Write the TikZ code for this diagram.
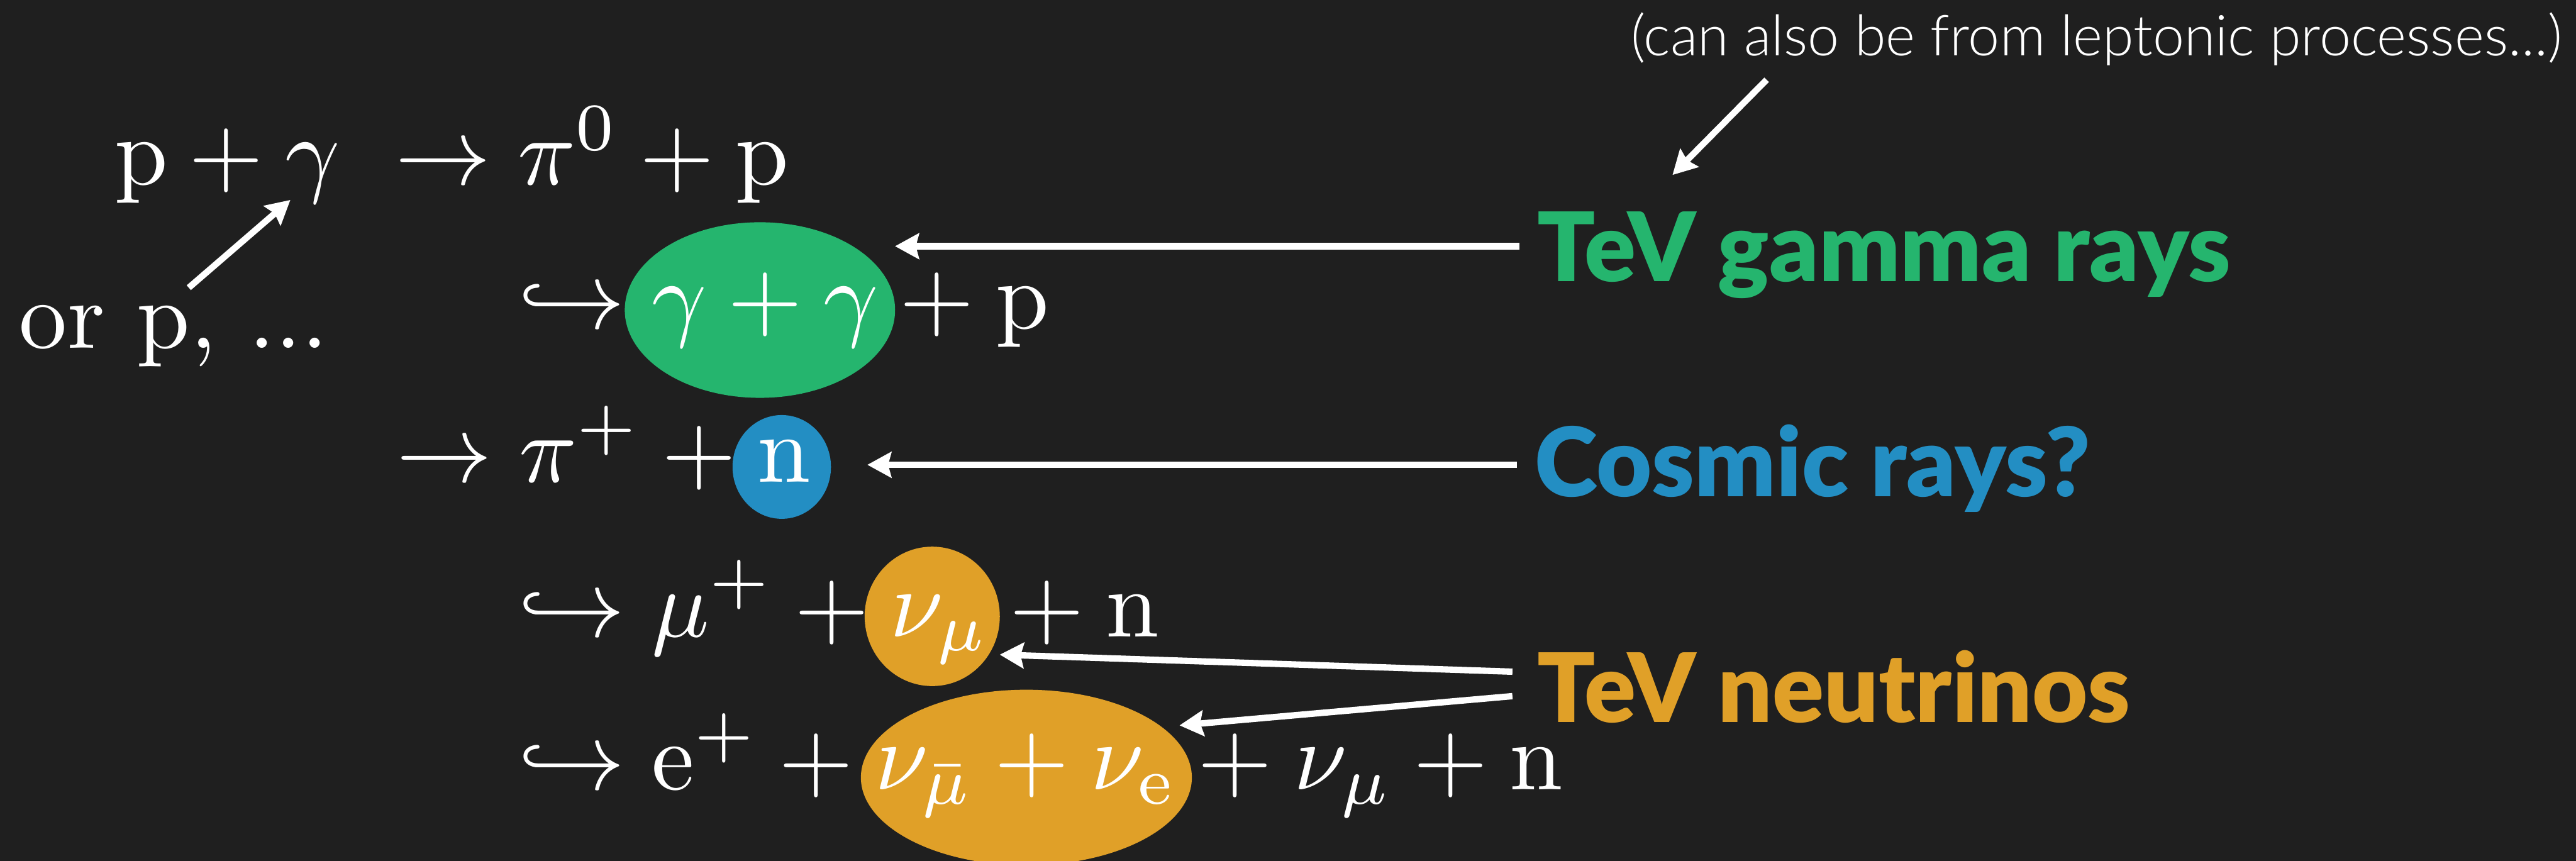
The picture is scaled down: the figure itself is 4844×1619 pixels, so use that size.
\documentclass[tikz,border=0pt]{standalone}
\usepackage{fontspec}
\newfontfamily\latoblack{Lato Black}
\newfontfamily\latolight{Lato Light}
\usetikzlibrary{arrows.meta,shapes.geometric}
\definecolor{bg}{HTML}{1F1F1F}
\definecolor{cgreen}{HTML}{25B56E}
\definecolor{cblue}{HTML}{238EC3}
\definecolor{corange}{HTML}{E0A028}
\tikzset{
  mathrow/.style={anchor=base west, inner sep=0pt, text=white, font=\fontsize{10}{12}\selectfont, scale=5.12, transform shape},
  lab/.style={anchor=base west, inner sep=0pt, font=\latoblack\fontsize{51.2}{60}\selectfont},
  note/.style={anchor=base west, inner sep=0pt, text=white, font=\latolight\fontsize{30.2}{36}\selectfont},
  blob/.style={ellipse, inner sep=0pt, draw=none},
  arr/.style={draw=white, line width=3.4pt, -{Stealth[length=0.45cm,width=0.48cm,inset=0.06cm]}}
}
\begin{document}
\begin{tikzpicture}[x=0.01cm,y=-0.01cm]
\fill[bg] (0,0) rectangle (4844,1619);
\useasboundingbox (0,0) rectangle (4844,1619);
% highlight blobs
\node[blob, fill=cgreen, minimum width=5.08cm, minimum height=3.3cm] (g1) at (1429,583) {};
\node[blob, fill=cblue, minimum width=1.85cm, minimum height=1.95cm] (b1) at (1470,878) {};
\node[blob, fill=corange, minimum width=2.54cm, minimum height=2.62cm] (o1) at (1753,1159) {};
\node[blob, fill=corange, minimum width=6.22cm, minimum height=3.3cm] (o2) at (1930,1462) {};
% reaction rows
\node[mathrow] (r1l) at (212,347) {$\mathrm{p}+\gamma$};
\node[mathrow] (r1r) at (740,347) {$\to\pi^0+\mathrm{p}$};
\node[mathrow] (r2) at (972,618) {$\hookrightarrow\gamma+\gamma+\mathrm{p}$};
\node[mathrow] (r3) at (742,907) {$\to\pi^+ +\mathrm{n}$};
\node[mathrow] (r4) at (972,1197) {$\hookrightarrow\mu^+ +\nu_\mu+\mathrm{n}$};
\node[mathrow] (r5) at (972,1485) {$\hookrightarrow\mathrm{e}^+ +\nu_{\bar\mu}+\nu_{\mathrm{e}}+\nu_\mu+\mathrm{n}$};
\node[mathrow] (orp) at (33,655) {or p, ...};
% labels
\node[lab, text=cgreen] (tg) at (2890,529) {TeV gamma rays};
\node[lab, text=cblue] (cr) at (2885,934) {Cosmic rays?};
\node[lab, text=corange] (tn) at (2890,1358) {TeV neutrinos};
\node[note] (nt) at (3066,105) {(can also be from leptonic processes...)};
% arrow end points
\coordinate (ntS) at (3322,150);
\coordinate (ntE) at (3145,329);
\coordinate (orS) at (355,541);
\coordinate (orE) at (546,376);
\coordinate (tgS) at (2857,463);
\coordinate (tgE) at (1683,463);
\coordinate (crS) at (2852,874);
\coordinate (crE) at (1631,874);
\coordinate (tnSa) at (2844,1263);
\coordinate (tnEa) at (1880,1231);
\coordinate (tnSb) at (2844,1309);
\coordinate (tnEb) at (2218,1364);
\draw[arr] (ntS) -- (ntE);
\draw[arr] (orS) -- (orE);
\draw[arr] (tgS) -- (tgE);
\draw[arr] (crS) -- (crE);
\draw[arr] (tnSa) -- (tnEa);
\draw[arr] (tnSb) -- (tnEb);
\end{tikzpicture}
\end{document}
